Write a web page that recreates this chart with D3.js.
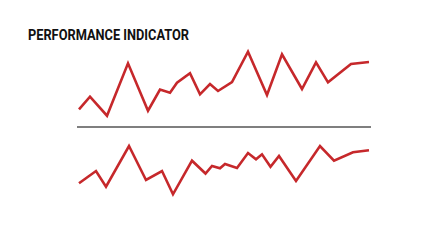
<!DOCTYPE html>
<html><head><meta charset="utf-8">
<script src="https://cdn.jsdelivr.net/npm/d3@7"></script>
<style>html,body{margin:0;padding:0;background:#fff;}svg{display:block;}</style>
</head><body>
<script>
const title = "PERFORMANCE INDICATOR";
// Top series: time offsets (days) and values
const topTimes = [0,11,28,49,69,81,91,98,111,121,131,139,153,169,188,203,223,237,249,272,290];
const topValues = [17.7,30.3,11.3,63.7,16.3,37.5,34.3,44.3,53.7,32.7,43,36,45,75.3,32,72.7,38,64.7,44.7,63,65];
// Bottom series
const bottomTimes = [0,17,27,50,67,83,94,113,126.5,133,141,146,158,169,177,183,191.5,200,217,241,255,274,290];
const bottomValues = [43.7,56,40.3,81,47,56,32.7,66.3,53.5,61,58.7,63,59,74,67.7,72.7,60.3,71,46,81,66.3,74.7,76.7];

const W = 440, H = 240;
const svg = d3.select("body").append("svg").attr("width", W).attr("height", H);

const x = d3.scaleLinear().domain([0, 290]).range([79, 369]);
const yTop = d3.scaleLinear().domain([0, 100]).range([127, 27]);
const yBot = d3.scaleLinear().domain([0, 100]).range([227, 127]);

svg.append("text")
  .attr("x", 28).attr("y", 39.5)
  .attr("font-family", "Roboto, 'Liberation Sans', sans-serif")
  .attr("font-weight", 700)
  .attr("font-size", 15)
  .attr("textLength", 161)
  .attr("lengthAdjust", "spacingAndGlyphs")
  .attr("fill", "#111")
  .text(title);

svg.append("line")
  .attr("x1", x(0) - 2).attr("x2", x(290) + 2)
  .attr("y1", yTop(0)).attr("y2", yTop(0))
  .attr("stroke", "#555").attr("stroke-width", 1.6);

const lineTop = d3.line().x((d, i) => x(topTimes[i])).y(d => yTop(d));
const lineBot = d3.line().x((d, i) => x(bottomTimes[i])).y(d => yBot(d));

svg.append("path").datum(topValues).attr("d", lineTop)
  .attr("fill", "none").attr("stroke", "#c6282b").attr("stroke-width", 2.6)
  .attr("stroke-linejoin", "miter").attr("stroke-linecap", "butt");
svg.append("path").datum(bottomValues).attr("d", lineBot)
  .attr("fill", "none").attr("stroke", "#c6282b").attr("stroke-width", 2.6)
  .attr("stroke-linejoin", "miter").attr("stroke-linecap", "butt");
</script>
</body></html>
